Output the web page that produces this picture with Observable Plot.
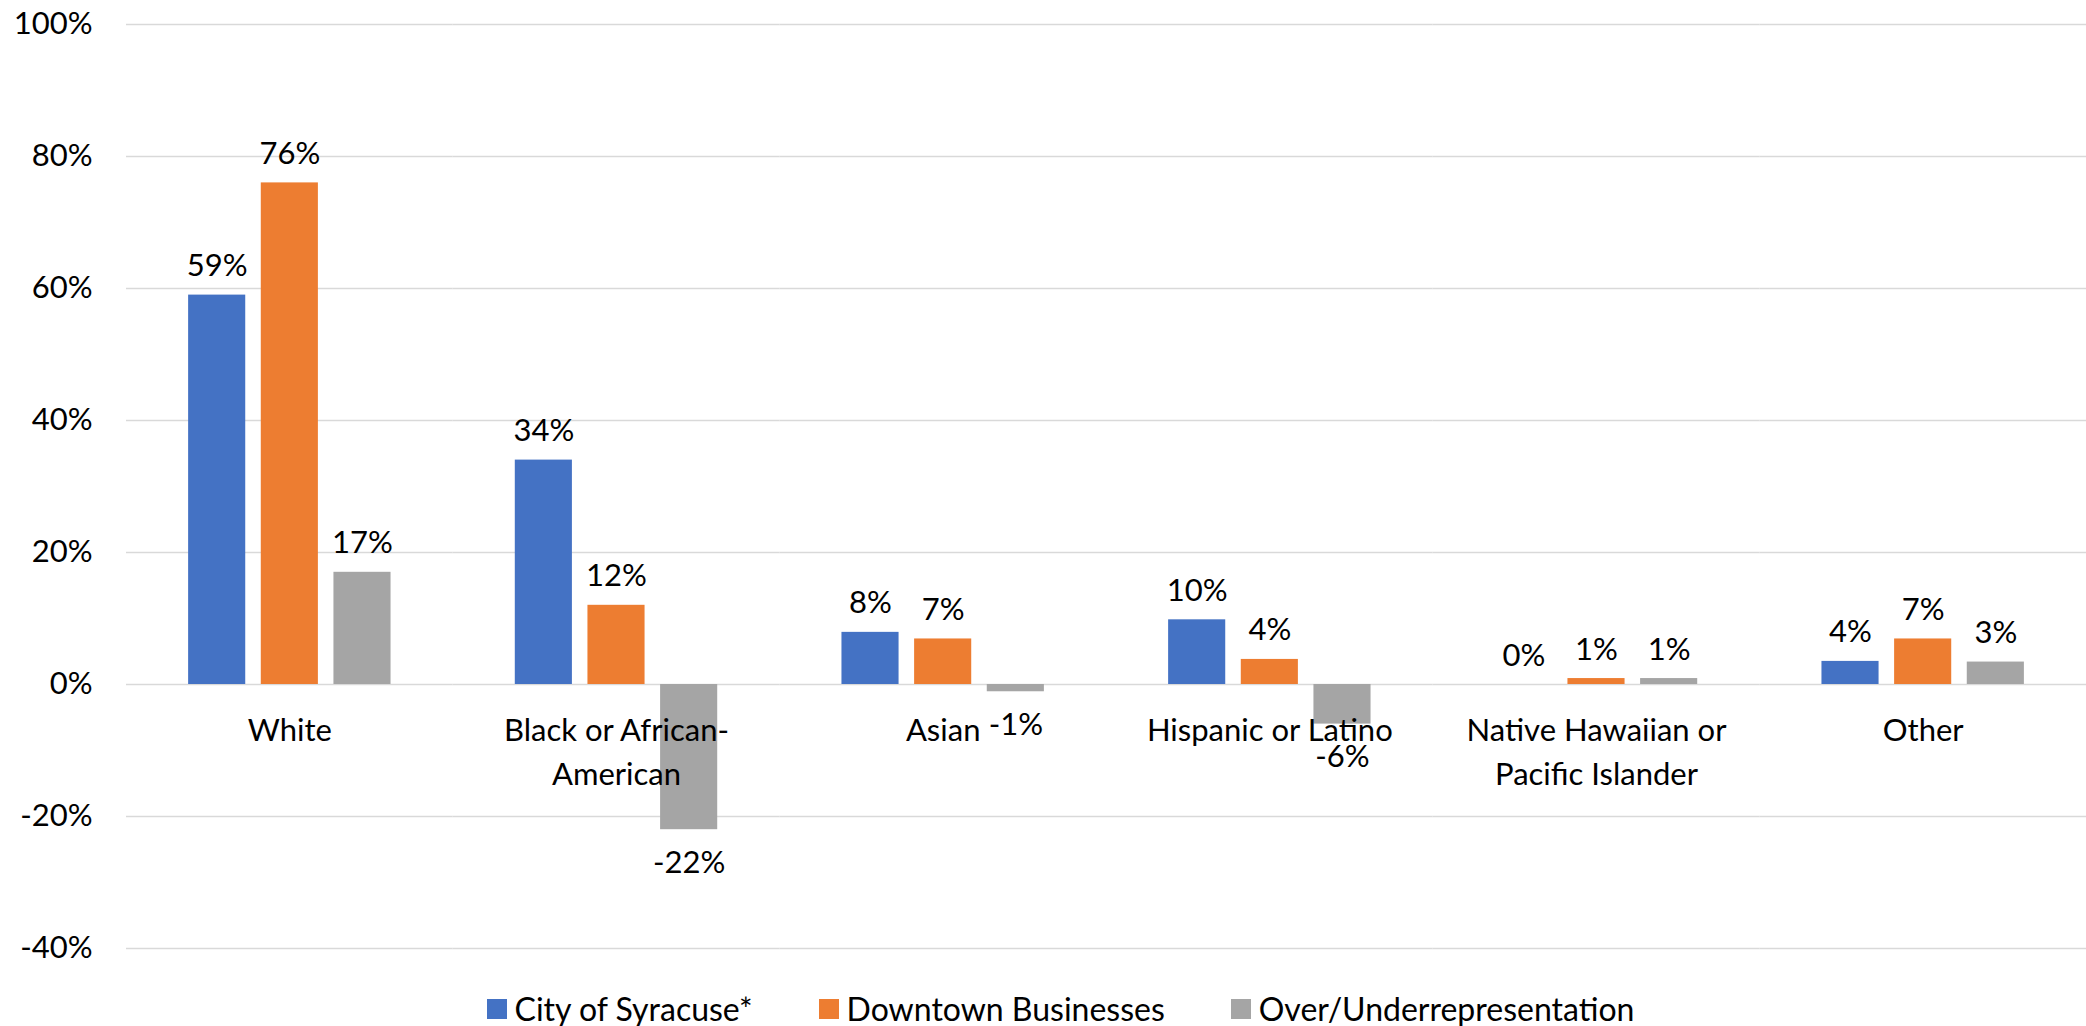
<!DOCTYPE html>
<html>
<head>
<meta charset="utf-8">
<script src="https://cdn.jsdelivr.net/npm/d3@7"></script>
<script src="https://cdn.jsdelivr.net/npm/@observablehq/plot@0.6"></script>
<style>
  html, body { margin: 0; padding: 0; background: #fff; overflow: hidden; }
  #chart { width: 2086px; }
  #legend {
    width: 2121px; display: flex; justify-content: center; gap: 66px;
    margin-top: 16px; font-family: Lato, sans-serif; font-size: 32px; line-height: 36px; color: #000;
  }
  #legend .item { display: flex; align-items: center; }
  #legend .sw { width: 20px; height: 20px; margin-right: 8px; }
</style>
</head>
<body>
<div id="chart"></div>
<div id="legend"></div>
<script>
const categories = ["White", "Black or African-\nAmerican", "Asian", "Hispanic or Latino", "Native Hawaiian or\nPacific Islander", "Other"];
const series = ["City of Syracuse*", "Downtown Businesses", "Over/Underrepresentation"];
const citySyracuse = [59, 34, 7.9, 9.8, 0, 3.5];
const downtownBusinesses = [76, 12, 6.9, 3.8, 0.9, 6.9];
const overUnder = [17, -22, -1.1, -6, 0.9, 3.4];
const colors = ["#4472C4", "#ED7D31", "#A5A5A5"];
const yTicks = [-40, -20, 0, 20, 40, 60, 80, 100];

const seriesValues = [citySyracuse, downtownBusinesses, overUnder];
const data = [];
categories.forEach((c, i) => {
  series.forEach((s, j) => data.push({category: c, series: s, value: seriesValues[j][i]}));
});
const fmt = v => Math.round(v) + "%";

const chart = Plot.plot({
  width: 2086,
  height: 975,
  marginLeft: 126,
  marginRight: 0,
  marginTop: 24,
  marginBottom: 27,
  style: {fontFamily: "Lato, sans-serif", fontSize: "31px", color: "#000", background: "#fff"},
  fx: {domain: categories, padding: 0, round: false, axis: null},
  x: {domain: series, paddingInner: 0.214, paddingOuter: 0.855, round: false, axis: null},
  y: {domain: [-40, 100], ticks: yTicks, tickFormat: d => d + "%", tickSize: 0, tickPadding: 34, label: null},
  color: {domain: series, range: colors},
  marks: [
    Plot.ruleY(yTicks, {stroke: "#d9d9d9", strokeWidth: 1.5}),
    Plot.barY(data, {fx: "category", x: "series", y: "value", fill: "series"}),
    Plot.text(data.filter(d => d.value >= 0), {fx: "category", x: "series", y: "value", text: d => fmt(d.value), lineAnchor: "bottom", dy: -19, fill: "#000"}),
    Plot.text(data.filter(d => d.value < 0), {fx: "category", x: "series", y: "value", text: d => fmt(d.value), lineAnchor: "top", dy: 21, fill: "#000"}),
    Plot.text(categories, {fx: d => d, y: () => 0, text: d => d, lineAnchor: "top", lineHeight: 1.43, dy: 25, fill: "#000"})
  ]
});
document.getElementById("chart").appendChild(chart);

const legend = document.getElementById("legend");
series.forEach((s, j) => {
  const item = document.createElement("div");
  item.className = "item";
  const sw = document.createElement("span");
  sw.className = "sw";
  sw.style.background = colors[j];
  const t = document.createElement("span");
  t.textContent = s;
  item.appendChild(sw);
  item.appendChild(t);
  legend.appendChild(item);
});
</script>
</body>
</html>
